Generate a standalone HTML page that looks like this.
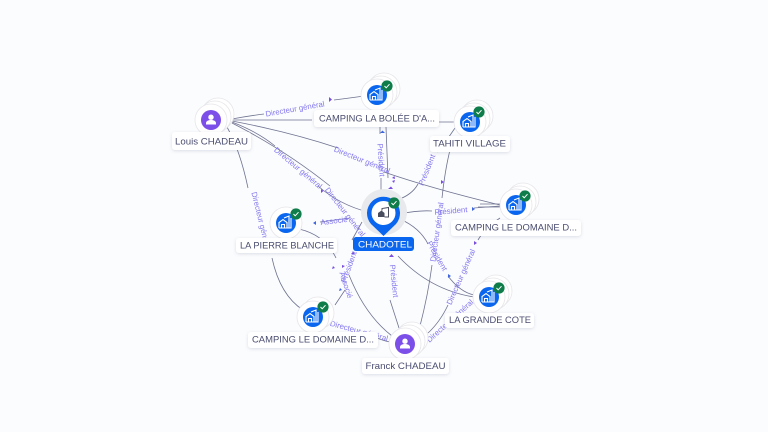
<!DOCTYPE html>
<html><head><meta charset="utf-8"><style>
html,body{margin:0;padding:0;background:#fbfcfe;width:768px;height:432px;overflow:hidden}
svg{display:block}
text{font-family:"Liberation Sans",sans-serif}
.e{fill:none;stroke:#6f7390;stroke-width:.8}
.l{font-size:7.8px;fill:#8478ee;text-anchor:middle;dominant-baseline:central}
.a{fill:#7a4fe0}
.n{font-size:9.3px;fill:#4a4d70;text-anchor:middle;dominant-baseline:central}
.b{fill:#fff;filter:url(#s)}
.r{fill:#fff;stroke:#e6e6ea;stroke-width:.8}
.i{fill:none;stroke:#fff;stroke-width:1.1}
.c{fill:none;stroke:#fff;stroke-width:1}
</style></head><body>
<svg width="768" height="432" viewBox="0 0 768 432" xmlns="http://www.w3.org/2000/svg">
<defs>
<filter id="s" x="-20%" y="-40%" width="140%" height="200%"><feDropShadow dx="0" dy="1" stdDeviation="1.6" flood-color="#6a6f90" flood-opacity=".22"/></filter>
<g id="house"><path class="i" d="M-7 5V-.5L-3 -3.500 1 -.5V5H-7M-4.500 5V1.500H-1.500V5M-2 -5L3 -7V5H1M5 -5V5H3"/></g>
<g id="check"><circle r="5.600" fill="#0f7d4a"/><path class="c" d="M-2.500 0 -.8 1.800 2.500 -1.800"/></g>
<g id="person"><circle cy="-2.800" r="2.700" fill="#fff"/><path d="M-5 4.500V3C-5 .8 -2 0 0 0S5 .8 5 3V4.500Z" fill="#fff"/></g>
</defs>

<!-- connectors -->
<path class="e" d="M232 119Q248 116 264 114"/>
<path class="e" d="M334 100Q350 98 364 96"/>
<path class="e" d="M232 120H312"/>
<path class="e" d="M438 122H456"/>
<path class="e" d="M232 121Q290 132 338 148"/>
<path class="e" d="M384 172Q430 188 500 205"/>
<path class="e" d="M232 122Q258 132 275 146"/>
<path class="e" d="M318 186Q340 205 368 212"/>
<path class="e" d="M232 123Q285 150 330 186"/>
<path class="e" d="M227 127Q240 150 248 188"/>
<path class="e" d="M272 258Q280 295 303 310"/>
<path class="e" d="M386 127 388 178"/>
<path class="e" d="M380 127V134M381 178V198"/>
<path class="e" d="M397 200Q412 195 418 184"/>
<path class="e" d="M437 152Q445 143 455 128"/>
<path class="e" d="M450 150Q445 170 442 198"/>
<path class="e" d="M432 265Q428 295 420 326"/>
<path class="e" d="M399 214Q420 210 432 211"/>
<path class="e" d="M474 208 500 206"/>
<path class="e" d="M480 204H500M478 207H500"/>
<path class="e" d="M400 219Q420 228 428 244"/>
<path class="e" d="M398 256Q430 290 474 297"/>
<path class="e" d="M448 276Q460 292 474 295"/>
<path class="e" d="M390 300 399 328" stroke-width="1.100"/>
<path class="e" d="M299 229Q325 235 336 258"/>
<path class="e" d="M350 218 320 222"/>
<path class="e" d="M349 275Q365 315 392 336"/>
<path class="e" d="M345 290 335 305"/>
<path class="e" d="M368 334Q380 340 390 342"/>
<path class="e" d="M428 333Q440 322 448 305"/>
<path class="e" d="M500 218Q485 228 478 240"/>
<path class="e" d="M362 222 352 240"/>

<!-- edge labels -->
<g class="l">
<text transform="translate(295 109) rotate(-10)">Directeur général</text>
<text transform="translate(298 168) rotate(40)">Directeur général</text>
<text transform="translate(362 160) rotate(22)">Directeur général</text>
<text transform="translate(345 212) rotate(52)">Directeur général</text>
<text transform="translate(261 221) rotate(76)">Directeur général</text>
<text transform="translate(334 221) rotate(-7)">Associé</text>
<text transform="translate(381 160) rotate(86)">Président</text>
<text transform="translate(427 170) rotate(-68)">Président</text>
<text transform="translate(451 211) rotate(-5)">Président</text>
<text transform="translate(437 256) rotate(60)">Président</text>
<text transform="translate(394 281) rotate(84)">Président</text>
<text transform="translate(349 267) rotate(-70)">Président</text>
<text transform="translate(346 285) rotate(72)">Associé</text>
<text transform="translate(437 232) rotate(-82)">Directeur général</text>
<text transform="translate(461 277) rotate(-66)">Directeur général</text>
<text transform="translate(450 321) rotate(-42)">Directeur général</text>
<text transform="translate(359 331) rotate(15)">Directeur général</text>
</g>

<!-- arrowheads -->
<g class="a">
<path d="M329 97 332 99.500 329 102Z"/>
<path d="M380 133 382.500 130.500 385 133Z" fill="#3f66e0"/>
<path d="M392 178 394.500 176 395 179Z"/>
<path d="M388 189 391 186.500 393 189Z"/>
<path d="M392 181 395 180 394 183Z"/>
<path d="M321 189 323.500 191 321 193Z"/>
<path d="M316 221 313 223 316 225Z" fill="#3f66e0"/>
<path d="M472 207 475 209 472 211Z" fill="#3f66e0"/>
<path d="M441 180 444 182 441 184Z"/>
<path d="M394 257 391.500 254 389 257Z"/>
<path d="M448 274 451 276 448 278Z" fill="#3f66e0"/>
<path d="M474 241 477 243 474 245Z"/>
<path d="M333 266 335 268 332 269Z"/>
<path d="M342 265 345 266 342 268Z"/>
<path d="M340 288 342 290 339 291Z" fill="#3f66e0"/>
<path d="M353 252 355 254 351 254Z"/>
</g>

<!-- Louis -->
<circle class="r" cx="218" cy="114" r="16"/><circle class="r" cx="215" cy="117" r="16"/><circle class="r" cx="211" cy="120" r="16"/>
<circle cx="211" cy="120" r="10" fill="#7c4fe8"/><use href="#person" x="211" y="120"/>
<rect class="b" x="172" y="132" width="79" height="18" rx="3"/>
<text class="n" x="211.500" y="141.500" textLength="73" lengthAdjust="spacingAndGlyphs">Louis CHADEAU</text>

<!-- Bolee -->
<circle class="r" cx="384" cy="89" r="16"/><circle class="r" cx="381" cy="92" r="16"/><circle class="r" cx="377" cy="95" r="16"/>
<circle cx="377" cy="95" r="10" fill="#0a66ee"/><use href="#house" x="377" y="95"/><use href="#check" x="387" y="86"/>
<rect class="b" x="314" y="110" width="125" height="17" rx="3"/>
<text class="n" x="377" y="118.500" textLength="116" lengthAdjust="spacingAndGlyphs">CAMPING LA BOLÉE D'A...</text>

<!-- Tahiti -->
<circle class="r" cx="477" cy="116" r="16"/><circle class="r" cx="474" cy="119" r="16"/><circle class="r" cx="470" cy="122" r="16"/>
<circle cx="470" cy="122" r="10" fill="#0a66ee"/><use href="#house" x="470" y="122"/><use href="#check" x="479" y="112"/>
<rect class="b" x="430" y="136" width="80" height="16" rx="3"/>
<text class="n" x="469.500" y="143.500" textLength="73" lengthAdjust="spacingAndGlyphs">TAHITI VILLAGE</text>

<!-- Domaine right -->
<circle class="r" cx="523" cy="199" r="16"/><circle class="r" cx="520" cy="202" r="16"/><circle class="r" cx="516" cy="205" r="16"/>
<circle cx="516" cy="205" r="10" fill="#0a66ee"/><use href="#house" x="516" y="205"/><use href="#check" x="525" y="196"/>
<rect class="b" x="451" y="220" width="130" height="16" rx="3"/>
<text class="n" x="516" y="227.500" textLength="122" lengthAdjust="spacingAndGlyphs">CAMPING LE DOMAINE D...</text>

<!-- Grande cote -->
<circle class="r" cx="496" cy="291" r="16"/><circle class="r" cx="493" cy="294" r="16"/><circle class="r" cx="489" cy="297" r="16"/>
<circle cx="489" cy="297" r="10" fill="#0a66ee"/><use href="#house" x="489" y="297"/><use href="#check" x="499" y="288"/>
<rect class="b" x="445" y="313" width="89" height="15" rx="3"/>
<text class="n" x="490" y="320" textLength="82" lengthAdjust="spacingAndGlyphs">LA GRANDE COTE</text>

<!-- Franck -->
<circle class="r" cx="412" cy="338" r="16"/><circle class="r" cx="409" cy="341" r="16"/><circle class="r" cx="405" cy="344" r="16"/>
<circle cx="405" cy="344" r="10" fill="#7c4fe8"/><use href="#person" x="405" y="344"/>
<rect class="b" x="362" y="358" width="87" height="16" rx="3"/>
<text class="n" x="405.500" y="366" textLength="80" lengthAdjust="spacingAndGlyphs">Franck CHADEAU</text>

<!-- Camping left -->
<circle class="r" cx="318" cy="313" r="16"/><circle class="r" cx="313" cy="317" r="16"/>
<circle cx="313" cy="317" r="10" fill="#0a66ee"/><use href="#house" x="313" y="317"/><use href="#check" x="323" y="307"/>
<rect class="b" x="248" y="332" width="130" height="16" rx="3"/>
<text class="n" x="313" y="339.500" textLength="122" lengthAdjust="spacingAndGlyphs">CAMPING LE DOMAINE D...</text>

<!-- Pierre -->
<circle class="r" cx="286" cy="223" r="16"/>
<circle cx="286" cy="223" r="10" fill="#0a66ee"/><use href="#house" x="286" y="223"/><use href="#check" x="296" y="214"/>
<rect class="b" x="236" y="238" width="101" height="15" rx="3"/>
<text class="n" x="287" y="245.500" textLength="94" lengthAdjust="spacingAndGlyphs">LA PIERRE BLANCHE</text>

<!-- Chadotel -->
<circle cx="384" cy="212" r="23" fill="#e8e9ec"/>
<path d="M383.500 236 L371 224 A16.500 16.500 0 1 1 396 224 Z" fill="#0a66ee"/>
<circle cx="383.500" cy="213" r="12" fill="#fff"/>
<g transform="translate(383.500 213)"><path d="M-5.500 4V0L-2 -2.500 1 0V4Z" fill="#4a4d5e"/><path d="M-1.500 -2.500V-4.500L5 -5.500V4H1" fill="none" stroke="#4a4d5e" stroke-width="1"/></g>
<use href="#check" x="394" y="203"/>
<rect x="353" y="237" width="61" height="14" rx="3" fill="#0a66ee"/>
<text x="385" y="244.500" font-size="9.300" fill="#fff" text-anchor="middle" dominant-baseline="central" textLength="54" lengthAdjust="spacingAndGlyphs">CHADOTEL</text>
</svg>
</body></html>
